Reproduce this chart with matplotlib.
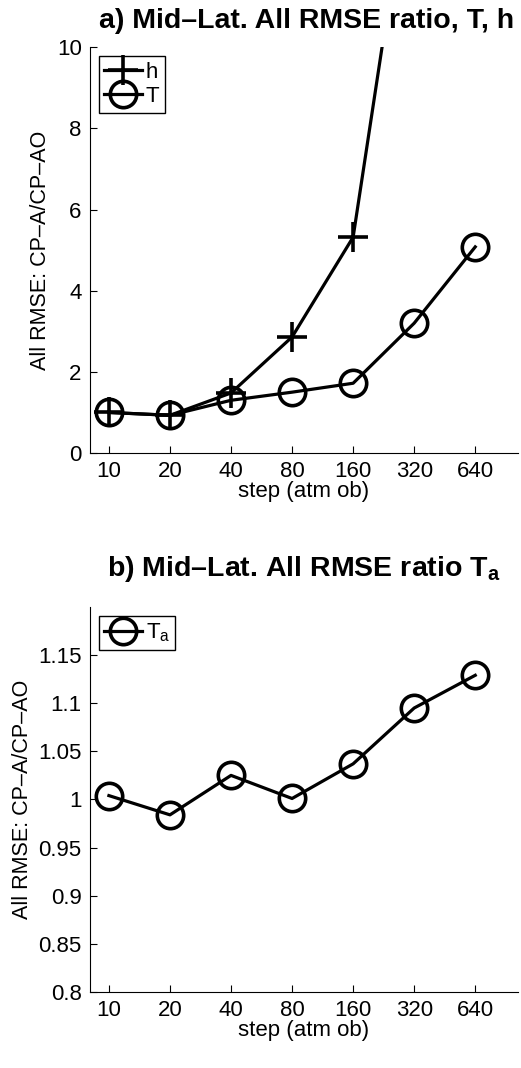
import matplotlib
matplotlib.use('Agg')
import matplotlib.pyplot as plt
import numpy as np

plt.rc('font', family='Liberation Sans', size=16)
plt.rc('mathtext', fontset='custom', rm='Liberation Sans', bf='Liberation Sans:bold')

steps = ['10', '20', '40', '80', '160', '320', '640']
h_ratio = [1.0, 0.93, 1.48, 2.86, 5.32, 15.2, 40.0]
T_ratio = [1.0, 0.93, 1.30, 1.50, 1.72, 3.20, 5.08]
Ta_ratio = [1.004, 0.984, 1.025, 1.001, 1.037, 1.095, 1.129]

x = np.arange(len(steps))

fig = plt.figure(figsize=(5.21, 10.68), dpi=100)
ax1 = fig.add_axes([0.1727, 0.5758, 0.8215, 0.380])
ax2 = fig.add_axes([0.1727, 0.0712, 0.8215, 0.3605])

lw = 2.3
ax1.plot(x, h_ratio, 'k-+', lw=lw, ms=21, mew=2.6, label='h')
ax1.plot(x, T_ratio, 'k-o', lw=lw, ms=19, mew=2.6, mfc='none', label='T')
ax1.set_ylim(0, 10)
ax1.set_yticks([0, 2, 4, 6, 8, 10])
ax1.set_title('a) Mid\u2013Lat. All RMSE ratio, T, h', fontsize=20.5, fontweight='bold',
              pad=14, x=0.505)

ax2.plot(x, Ta_ratio, 'k-o', lw=lw, ms=19, mew=2.6, mfc='none', label=r'T$_\mathregular{a}$')
ax2.set_ylim(0.8, 1.2)
ax2.set_yticks([0.8, 0.85, 0.9, 0.95, 1.0, 1.05, 1.1, 1.15])
ax2.set_yticklabels(['0.8', '0.85', '0.9', '0.95', '1', '1.05', '1.1', '1.15'])
ax2.set_title('b) Mid\u2013Lat. All RMSE ratio T' + r'$_\mathbf{a}$', fontsize=20.5,
              fontweight='bold', pad=22, x=0.5)

for ax in (ax1, ax2):
    ax.set_xlim(-0.31, 6.7)
    ax.set_xticks(x)
    ax.set_xticklabels(steps)
    ax.set_xlabel('step (atm ob)', labelpad=-1)
    ax.set_ylabel('All RMSE: CP\u2013A/CP\u2013AO', fontsize=15.5, labelpad=4)
    ax.spines['top'].set_visible(False)
    ax.spines['right'].set_visible(False)
    ax.tick_params(direction='in', length=5, width=0.8, pad=6)
    leg = ax.legend(loc='upper left', fancybox=False, edgecolor='k', framealpha=1,
                    handlelength=1.7, handletextpad=0.15, borderpad=0.25,
                    labelspacing=0.15, borderaxespad=0.4)
    leg.get_frame().set_linewidth(1.0)

plt.savefig('out.png', dpi=100)
